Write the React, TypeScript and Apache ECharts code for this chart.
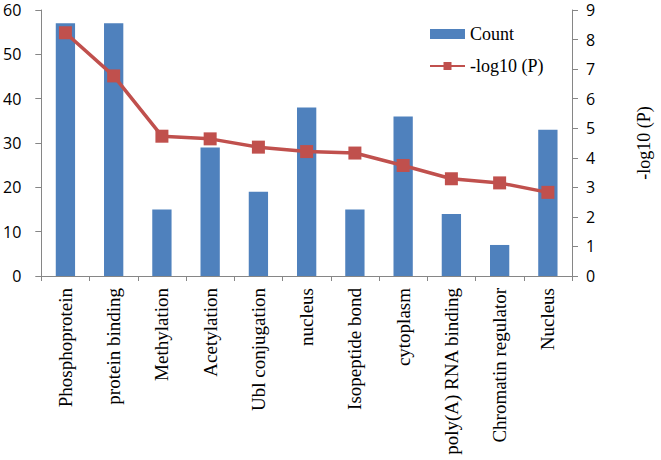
import React, { useEffect, useRef } from "react";
import * as echarts from "echarts";

const categories = [
  "Phosphoprotein",
  "protein binding",
  "Methylation",
  "Acetylation",
  "Ubl conjugation",
  "nucleus",
  "Isopeptide bond",
  "cytoplasm",
  "poly(A) RNA binding",
  "Chromatin regulator",
  "Nucleus",
];
const countValues = [57, 57, 15, 29, 19, 38, 15, 36, 14, 7, 33];
const logPValues = [8.23, 6.77, 4.73, 4.64, 4.36, 4.21, 4.16, 3.74, 3.29, 3.15, 2.83];

const serif = "'Liberation Serif', 'Times New Roman', serif";
const sans = "'Open Sans', 'Liberation Sans', sans-serif";
const axisGray = "#868686";

export default function App() {
  const ref = useRef<HTMLDivElement>(null);
  useEffect(() => {
    if (!ref.current) return;
    const chart = echarts.init(ref.current, null, { renderer: "svg", width: 661, height: 460 });
    chart.setOption({
      animation: false,
      backgroundColor: "#ffffff",
      grid: { left: 39, right: 72, top: 10, bottom: 184 },
      legend: {
        orient: "vertical",
        left: 424,
        top: 20,
        itemWidth: 35,
        itemHeight: 10,
        itemGap: 14,
        textStyle: { fontFamily: serif, fontSize: 18, color: "#000" },
        data: [
          { name: "Count", icon: "rect" },
          { name: "-log10 (P)" },
        ],
      },
      xAxis: {
        type: "category",
        data: categories,
        axisLine: { lineStyle: { color: axisGray } },
        axisTick: { show: true, length: 5, alignWithLabel: false, lineStyle: { color: axisGray } },
        axisLabel: {
          rotate: 90,
          interval: 0,
          margin: 12,
          fontFamily: serif,
          fontSize: 19,
          color: "#000",
        },
      },
      yAxis: [
        {
          type: "value",
          min: 0,
          max: 60,
          interval: 10,
          splitLine: { show: false },
          axisLine: { show: true, lineStyle: { color: axisGray } },
          axisTick: { show: true, length: 6, lineStyle: { color: axisGray } },
          axisLabel: { fontFamily: sans, fontSize: 16, lineHeight: 16, color: "#000", margin: 20 },
        },
        {
          type: "value",
          min: 0,
          max: 9,
          interval: 1,
          position: "right",
          splitLine: { show: false },
          axisLine: { show: true, lineStyle: { color: axisGray } },
          axisTick: { show: true, length: 6, lineStyle: { color: axisGray } },
          axisLabel: { fontFamily: sans, fontSize: 16, lineHeight: 16, color: "#000", margin: 14 },
          name: "-log10 (P)",
          nameLocation: "middle",
          nameRotate: 90,
          nameGap: 63,
          nameTextStyle: { fontFamily: serif, fontSize: 18, color: "#000" },
        },
      ],
      series: [
        {
          name: "Count",
          type: "bar",
          data: countValues,
          barWidth: "40%",
          itemStyle: { color: "#4F81BD" },
          yAxisIndex: 0,
        },
        {
          name: "-log10 (P)",
          type: "line",
          data: logPValues,
          yAxisIndex: 1,
          symbol: "rect",
          symbolSize: 13,
          lineStyle: { color: "#C0504D", width: 3.5 },
          itemStyle: { color: "#C0504D" },
        },
      ],
    });
    return () => chart.dispose();
  }, []);
  return (
    <div
      ref={ref}
      style={{ position: "fixed", left: 0, top: 0, width: 661, height: 460 }}
    />
  );
}
